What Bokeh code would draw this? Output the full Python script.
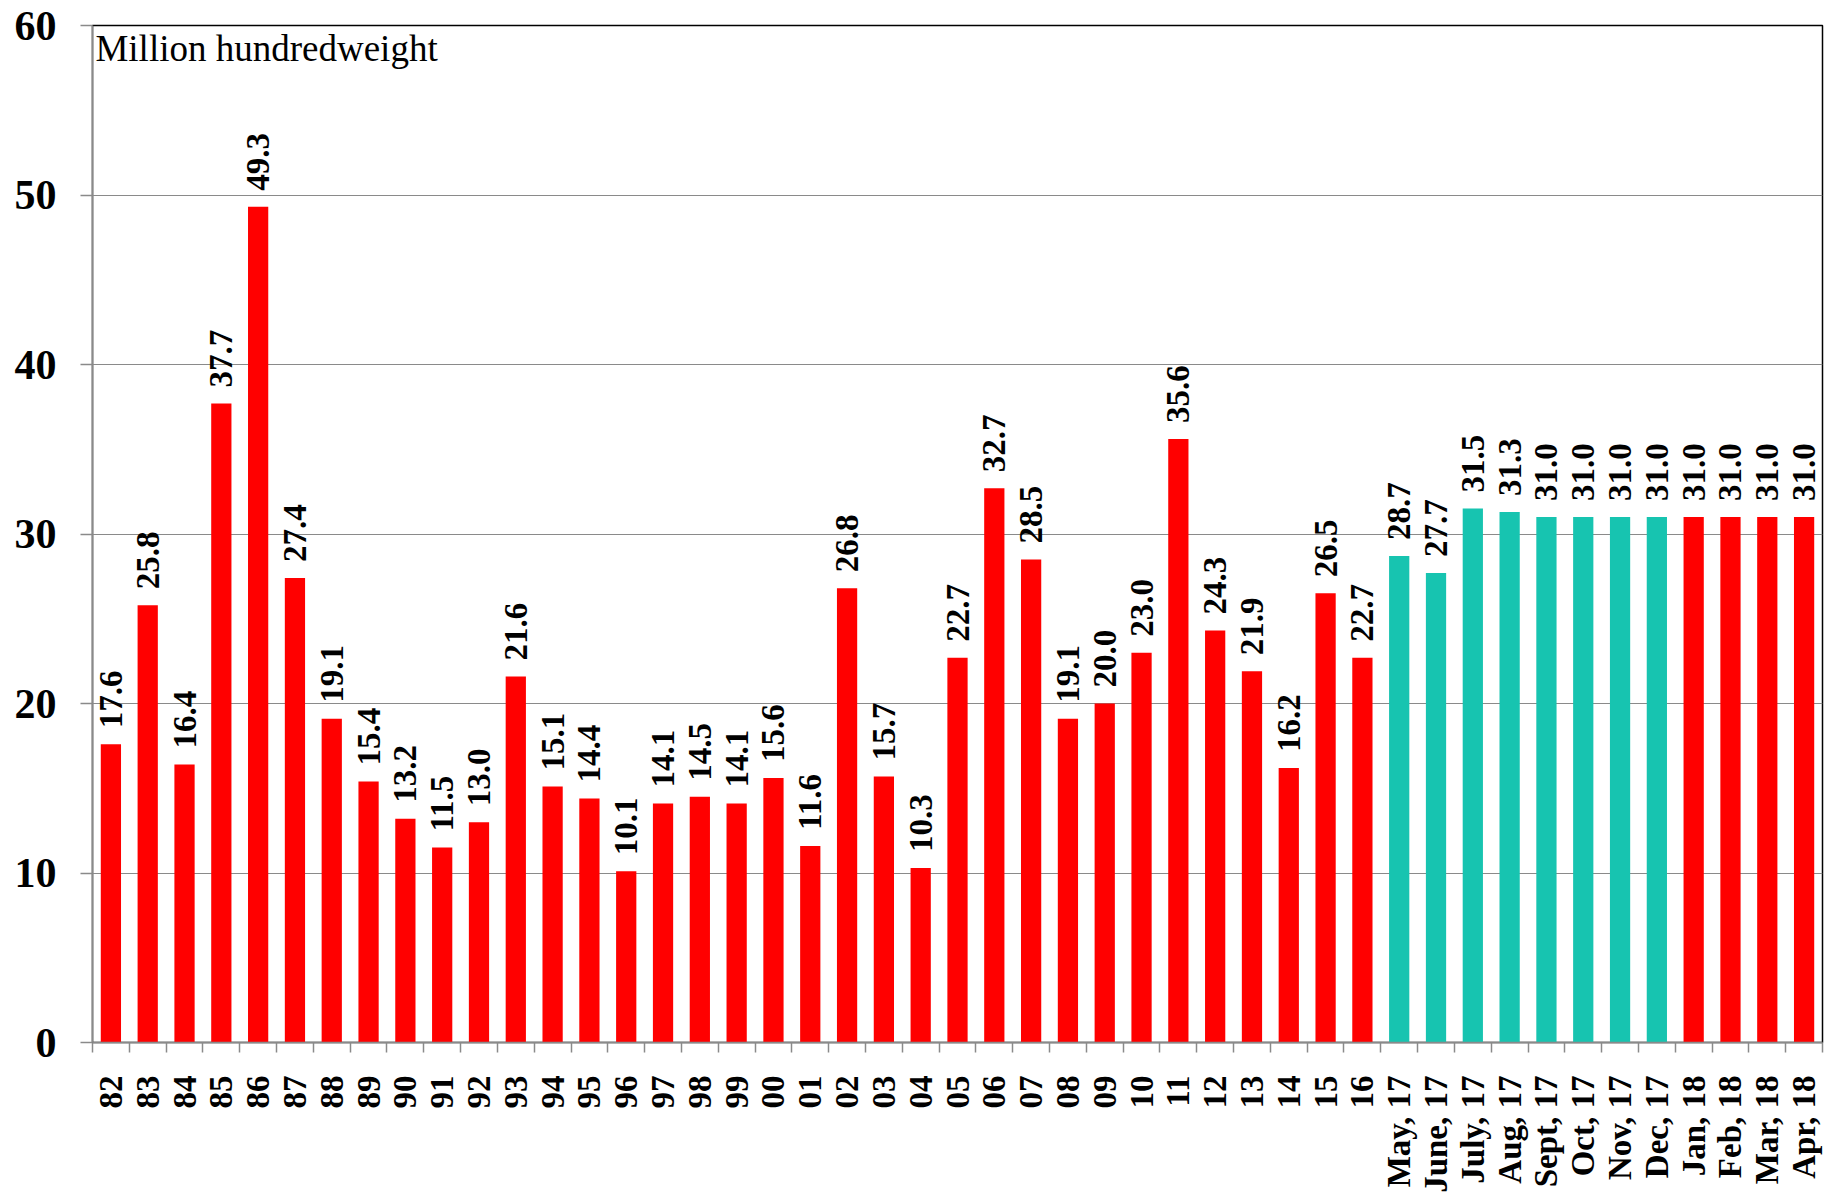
import numpy as np
from bokeh.plotting import figure
from bokeh.models import Range1d, FixedTicker, ColumnDataSource, Label, CustomJSTickFormatter
from bokeh.embed import file_html
from bokeh.resources import INLINE
from bokeh.core.properties import value

# ---- data ----
categories = ["82", "83", "84", "85", "86", "87", "88", "89", "90", "91", "92", "93",
              "94", "95", "96", "97", "98", "99", "00", "01", "02", "03", "04", "05",
              "06", "07", "08", "09", "10", "11", "12", "13", "14", "15", "16",
              "May, 17", "June, 17", "July, 17", "Aug, 17", "Sept, 17", "Oct, 17",
              "Nov, 17", "Dec, 17", "Jan, 18", "Feb, 18", "Mar, 18", "Apr, 18"]
values = [17.6, 25.8, 16.4, 37.7, 49.3, 27.4, 19.1, 15.4, 13.2, 11.5, 13.0, 21.6,
          15.1, 14.4, 10.1, 14.1, 14.5, 14.1, 15.6, 11.6, 26.8, 15.7, 10.3, 22.7,
          32.7, 28.5, 19.1, 20.0, 23.0, 35.6, 24.3, 21.9, 16.2, 26.5, 22.7,
          28.7, 27.7, 31.5, 31.3, 31.0, 31.0,
          31.0, 31.0, 31.0, 31.0, 31.0, 31.0]
groups = ["annual"] * 35 + ["2017 months"] * 8 + ["2018 months"] * 4
y_ticks = [0, 10, 20, 30, 40, 50, 60]
unit_label = "Million hundredweight"

# ---- styling ----
group_colors = {"annual": "#FF0000", "2017 months": "#17C4B0", "2018 months": "#FF0000"}
FONT = "Liberation Serif"
GRAY = "#8a8a8a"

n = len(categories)
pos = np.arange(n) + 0.5
src = ColumnDataSource(dict(
    x=pos,
    top=values,
    color=[group_colors[g] for g in groups],
    label=[f"{v:.1f}" for v in values],
))

p = figure(frame_width=1730, frame_height=1017,
           x_range=Range1d(0, n), y_range=Range1d(0, 60),
           output_backend="svg", toolbar_location=None,
           min_border_left=92, min_border_top=25, min_border_right=8, min_border_bottom=150,
           background_fill_color="white", border_fill_color="white")

p.vbar(x="x", top="top", bottom=0, width=0.55, fill_color="color", line_color=None, source=src)

p.text(x="x", y="top", text="label", source=src, angle=np.pi / 2,
       text_align="left", text_baseline="middle", y_offset=-16,
       text_font=value(FONT), text_font_style="bold", text_font_size="33px",
       text_color="black")

p.add_layout(Label(x=0.08, y=59.85, text=unit_label, text_baseline="top", text_align="left",
                   text_font=FONT, text_font_size="37px", text_color="black"))

# grid / outline
p.xgrid.grid_line_color = None
p.ygrid.grid_line_color = GRAY
p.ygrid.grid_line_width = 1.2
p.outline_line_color = "black"
p.outline_line_width = 1.5

# x axis
xa = p.xaxis[0]
xa.ticker = FixedTicker(ticks=list(pos), minor_ticks=list(range(n + 1)))
xa.formatter = CustomJSTickFormatter(args=dict(labels=categories),
                                     code="return labels[Math.floor(tick)] || '';")
xa.major_label_orientation = np.pi / 2
xa.major_tick_out = 0
xa.major_tick_in = 0
xa.minor_tick_out = 10
xa.minor_tick_in = 0
xa.minor_tick_line_color = GRAY
xa.minor_tick_line_width = 1.5
xa.axis_line_color = GRAY
xa.axis_line_width = 1.5
xa.major_label_standoff = 23
xa.major_label_text_font = FONT
xa.major_label_text_font_style = "bold"
xa.major_label_text_font_size = "33px"
xa.major_label_text_color = "black"

# y axis
ya = p.yaxis[0]
ya.ticker = FixedTicker(ticks=y_ticks)
ya.minor_tick_line_color = None
ya.major_tick_out = 12
ya.major_tick_in = 0
ya.major_tick_line_color = GRAY
ya.major_tick_line_width = 1.5
ya.axis_line_color = GRAY
ya.axis_line_width = 1.5
ya.major_label_standoff = 24
ya.major_label_text_font = FONT
ya.major_label_text_font_style = "bold"
ya.major_label_text_font_size = "42px"
ya.major_label_text_color = "black"

open("out.html", "w").write(file_html(p, INLINE))
